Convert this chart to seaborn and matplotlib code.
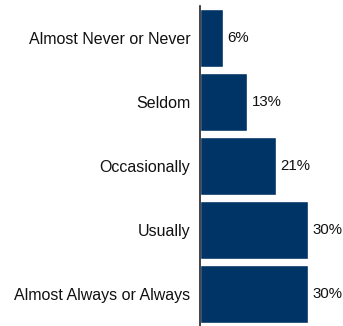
import matplotlib
matplotlib.use('Agg')
import pandas as pd
import seaborn as sns
from matplotlib import pyplot as plt

categories = ["Almost Never or Never", "Seldom", "Occasionally", "Usually",
              "Almost Always or Always"]
values = [6.4, 13.0, 21.1, 30.0, 30.0]
labels = ["6%", "13%", "21%", "30%", "30%"]

df = pd.DataFrame({"Category": categories, "Value": values})

sns.set_style("white")
plt.rcParams['font.family'] = ['Liberation Sans', 'DejaVu Sans']

fig = plt.figure(figsize=(3.43, 3.26), dpi=100)
ax = fig.add_axes([200 / 343, 0, 143 / 343, 320 / 326])

sns.barplot(data=df, x="Value", y="Category", orient="h", color="#003366",
            width=0.9, saturation=1, ax=ax)

for i, (v, lab) in enumerate(zip(values, labels)):
    ax.text(v + 1.3, i, lab, va="center", ha="left", fontsize=10.8, color="#111111")

ax.set_xlim(0, 39.7)
ax.set_ylim(4.5, -0.5)
ax.set_xlabel("")
ax.set_ylabel("")
ax.set_xticks([])
ax.tick_params(axis="y", length=0, pad=7, labelsize=11.5, labelcolor="#111111")
for side in ["top", "right", "bottom"]:
    ax.spines[side].set_visible(False)
ax.spines["left"].set_color("#222222")
ax.spines["left"].set_linewidth(1.2)

plt.savefig("out.png", dpi=100)
